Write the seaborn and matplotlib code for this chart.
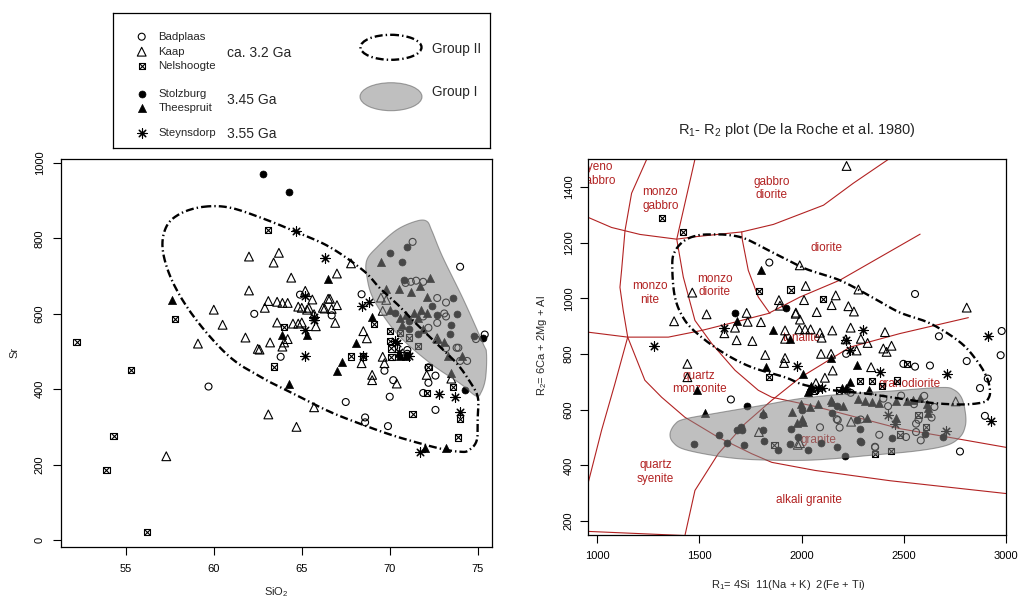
import numpy as np
import pandas as pd
import matplotlib
matplotlib.use("Agg")
import matplotlib.pyplot as plt
from matplotlib.patches import Ellipse
import seaborn as sns

sns.set_style("ticks")
plt.rcParams["font.family"] = ["Liberation Sans", "DejaVu Sans"]
plt.rcParams["mathtext.default"] = "regular"

# ---- left panel: SiO2 (wt%) vs Sr (ppm) ----
sio2_sr_badplaas = [(59.7, 407), (62.3, 600), (63.8, 486), (64.9, 651), (66.7, 596), (67.5, 366),
                    (68.4, 652), (68.6, 325), (68.6, 312), (69.9, 302), (69.7, 449), (70.2, 424),
                    (70.0, 380), (71.0, 504), (71.0, 494), (71.3, 791), (74.0, 725), (71.9, 390),
                    (72.2, 417), (72.2, 458), (72.6, 345), (73.8, 510), (74.0, 475), (74.4, 475),
                    (75.4, 545), (72.6, 436), (73.1, 601), (70.9, 682), (71.2, 685), (71.5, 688),
                    (71.9, 685), (72.7, 642), (73.2, 630), (71.9, 593), (73.2, 593), (72.7, 576),
                    (73.2, 509), (74.9, 533), (73.9, 510), (72.2, 563)]
sio2_sr_kaap = [(57.3, 222), (59.1, 521), (60.0, 611), (60.5, 571), (61.8, 537), (62.0, 662),
                (62.0, 752), (62.5, 507), (62.6, 505), (62.9, 616), (63.1, 634), (63.2, 524),
                (63.1, 333), (63.4, 736), (63.7, 762), (63.6, 632), (63.9, 629), (64.2, 629),
                (63.6, 577), (64.0, 524), (63.9, 513), (64.2, 533), (64.4, 696), (64.5, 574),
                (64.8, 574), (64.8, 619), (65.0, 577), (65.0, 616), (65.2, 661), (65.3, 611),
                (65.4, 616), (65.6, 638), (65.7, 599), (65.8, 567), (65.7, 352), (64.7, 300),
                (66.2, 616), (66.5, 640), (66.6, 640), (66.3, 614), (66.7, 613), (67.0, 623),
                (66.9, 576), (67.0, 707), (67.8, 734), (68.5, 554), (68.7, 535), (68.4, 469),
                (69.0, 438), (69.0, 424), (69.6, 608), (69.6, 486), (69.7, 469), (70.4, 415),
                (69.5, 643), (69.8, 637), (72.1, 438), (72.7, 535), (73.5, 428)]
sio2_sr_nelshoogte = [(52.2, 525), (55.3, 450), (54.3, 275), (53.9, 186), (56.2, 20), (57.8, 587),
                      (63.1, 822), (63.4, 460), (64.0, 565), (67.8, 487), (68.5, 487), (70.0, 555),
                      (70.0, 528), (70.1, 508), (70.1, 486), (71.3, 335), (72.1, 390), (73.6, 406),
                      (74.0, 322), (73.9, 272), (69.1, 573), (71.1, 537), (71.6, 514), (72.2, 459),
                      (70.6, 550)]
sio2_sr_stolzburg = [(62.8, 972), (64.3, 924), (74.3, 398), (71.0, 491), (70.0, 762), (70.7, 738),
                     (71.0, 778), (70.8, 689), (73.6, 641), (70.3, 602), (71.1, 580), (72.4, 620),
                     (72.7, 598), (73.5, 571), (71.1, 559), (71.6, 546), (73.4, 546), (74.8, 542),
                     (73.8, 600), (75.3, 535)]
sio2_sr_theespruit = [(57.6, 637), (63.9, 544), (65.3, 544), (64.3, 415), (66.5, 693), (67.0, 449),
                      (67.3, 472), (68.1, 523), (69.0, 592), (70.5, 495), (70.6, 488), (70.9, 488),
                      (72.0, 243), (73.2, 245), (69.5, 738), (69.8, 667), (70.5, 666), (71.2, 657),
                      (71.7, 674), (72.1, 644), (72.3, 694), (70.0, 611), (70.6, 589), (70.9, 598),
                      (71.4, 602), (71.6, 589), (71.8, 611), (72.1, 602), (70.7, 570), (71.9, 559),
                      (72.7, 533), (73.1, 524), (74.1, 489), (73.3, 489), (73.5, 443)]
sio2_sr_steynsdorp = [(64.7, 820), (66.3, 747), (65.2, 487), (65.2, 557), (65.2, 648), (65.7, 592),
                      (65.7, 584), (68.4, 621), (68.8, 632), (68.5, 487), (70.4, 523), (70.3, 529),
                      (70.5, 498), (71.1, 487), (71.7, 234), (72.8, 388), (73.7, 380), (74.0, 340)]

left_group1 = [(72.1, 846), (71.5, 846), (70.4, 823), (69.3, 778), (68.7, 743), (68.7, 699),
               (69.1, 637), (70.4, 548), (72.3, 469), (74.0, 415), (74.9, 382), (75.2, 392),
               (75.45, 430), (75.5, 495), (75.3, 522), (74.2, 637), (73.0, 752), (72.4, 820)]
left_group2 = [(59.4, 884), (60.9, 882), (62.8, 853), (64.7, 817), (66.6, 777), (68.5, 715),
               (69.4, 670), (70.4, 627), (71.5, 574), (72.65, 522), (73.8, 469), (74.5, 424),
               (75.0, 380), (75.0, 327), (74.95, 265), (74.5, 238), (74.0, 234), (72.8, 243),
               (70.4, 274), (68.5, 305), (66.6, 340), (64.7, 384), (62.8, 429), (60.9, 486),
               (59.0, 584), (57.7, 681), (57.1, 769), (57.3, 831), (58.1, 866)]

# ---- right panel: R1 vs R2 ----
r1r2_badplaas = [(1842, 1129), (2555, 1016), (2672, 864), (2979, 883), (2974, 796), (2808, 775),
                 (2911, 712), (2873, 678), (2897, 578), (2775, 450), (2498, 765), (2555, 755),
                 (2628, 759), (1654, 637), (2240, 661), (2218, 801), (2172, 566), (2186, 536),
                 (2090, 537), (2380, 510), (2511, 502), (2560, 520), (2560, 550), (2636, 572),
                 (2572, 564), (2359, 467), (2423, 613), (2289, 565), (2583, 490), (2360, 465),
                 (2177, 563), (2487, 651), (2600, 650), (2650, 610), (2550, 620), (2400, 640),
                 (2224, 668)]
r1r2_kaap = [(2220, 1476), (1991, 1119), (2020, 1045), (2167, 1011), (2278, 1032), (1465, 1021),
             (1889, 994), (1894, 974), (2012, 994), (2074, 951), (2147, 976), (2229, 972),
             (2256, 953), (1535, 943), (1731, 948), (1972, 949), (2808, 967), (1736, 916),
             (1801, 915), (1674, 895), (1622, 875), (1376, 918), (1682, 850), (1759, 847),
             (1919, 885), (1919, 855), (1989, 889), (2017, 889), (2044, 889), (1971, 945),
             (1992, 924), (1822, 797), (1919, 786), (1914, 768), (1441, 765), (1441, 717),
             (2090, 877), (2098, 859), (2150, 885), (2216, 853), (2240, 895), (2290, 855),
             (2323, 840), (2408, 879), (2400, 820), (2416, 808), (2440, 830), (2340, 753),
             (2095, 801), (2144, 801), (2152, 741), (2114, 715), (2070, 696), (2269, 813),
             (1791, 520), (1992, 480), (2242, 557), (2754, 630), (1981, 474)]
r1r2_nelshoogte = [(1315, 1290), (1418, 1240), (1793, 1026), (1946, 1032), (2106, 997), (1842, 717),
                   (2061, 669), (2286, 703), (2346, 703), (2392, 685), (2465, 705), (2183, 669),
                   (2514, 765), (1867, 474), (2436, 451), (2359, 442), (2482, 511), (2607, 538),
                   (2572, 580)]
r1r2_stolzburg = [(1922, 967), (1674, 948), (1731, 612), (1475, 477), (1596, 508), (1633, 479),
                  (1682, 529), (1703, 539), (1706, 526), (1718, 472), (1813, 582), (1810, 526),
                  (1816, 486), (1886, 456), (1943, 478), (1948, 531), (1981, 502), (2033, 454),
                  (2172, 615), (2271, 564), (2284, 531), (2284, 486), (2093, 480), (2172, 467),
                  (2212, 434), (2441, 499), (2604, 514), (2694, 501), (2289, 483), (2000, 600),
                  (2150, 590)]
r1r2_theespruit = [(1800, 1101), (1686, 918), (1862, 885), (1943, 855), (1825, 753), (2008, 727),
                   (2046, 684), (1486, 672), (1527, 588), (2272, 761), (2142, 786), (2237, 698),
                   (2216, 679), (2033, 663), (2041, 679), (2199, 678), (2331, 670), (1951, 592),
                   (1997, 622), (1976, 552), (2004, 567), (2041, 610), (2082, 621), (2144, 636),
                   (2204, 615), (2278, 640), (2311, 630), (2344, 627), (2379, 624), (2462, 630),
                   (2514, 630), (2547, 634), (2579, 643), (2612, 622), (2620, 606), (2462, 572),
                   (2318, 572), (2005, 556), (2147, 628), (2620, 587), (1813, 590)]
r1r2_steynsdorp = [(1619, 895), (1278, 829), (1979, 759), (2216, 851), (2302, 888), (2914, 864),
                   (2384, 736), (2710, 730), (2925, 559), (2098, 679), (2237, 813), (2082, 678),
                   (2705, 523), (2423, 580), (2455, 548)]

right_group1 = [(1356, 513), (1380, 548), (1429, 567), (1600, 590), (1800, 615), (1992, 640),
                (2200, 656), (2450, 668), (2680, 680), (2745, 672), (2785, 640), (2803, 580),
                (2800, 538), (2775, 502), (2710, 472), (2563, 452), (2319, 435), (2155, 424),
                (1992, 418), (1756, 421), (1592, 433), (1429, 457), (1372, 482)]
right_group2 = [(1367, 1125), (1383, 1173), (1429, 1209), (1494, 1227), (1568, 1230), (1640, 1228),
                (1723, 1215), (1837, 1173), (1918, 1143), (2025, 1105), (2188, 1065), (2351, 1002),
                (2479, 950), (2630, 910), (2775, 843), (2857, 777), (2906, 717), (2922, 669),
                (2915, 642), (2890, 627), (2792, 619), (2645, 624), (2482, 640), (2319, 658),
                (2155, 670), (2057, 682), (1992, 694), (1918, 717), (1755, 753), (1625, 801),
                (1510, 861), (1429, 921), (1380, 1005)]

# De la Roche field boundaries
field_lines = [
    [(953, 1292), (1070, 1255), (1209, 1230), (1388, 1213), (1470, 1221), (1707, 1239),
     (1862, 1266), (2107, 1335), (2253, 1414), (2425, 1500)],
    [(1242, 1500), (1168, 1378), (1136, 1245), (1119, 1101), (1111, 1040), (1127, 957),
     (1149, 861), (1085, 690), (1021, 526), (953, 330)],
    [(953, 879), (1149, 861), (1348, 861), (1511, 885), (1674, 915), (1837, 946), (1992, 1005),
     (2188, 1066), (2580, 1231)],
    [(1149, 861), (1233, 706), (1315, 645), (1429, 573), (1592, 501), (1756, 442), (1854, 411),
     (2066, 382), (2433, 345), (3000, 299)],
    [(1429, 148), (1478, 310), (1592, 442), (1723, 550), (1854, 634), (1992, 715), (2237, 825),
     (2482, 874), (2816, 931)],
    [(1478, 1500), (1389, 1213), (1421, 1077), (1478, 921), (1560, 838), (1674, 742), (1788, 670),
     (1854, 645), (2066, 612), (2482, 532), (3000, 465)],
    [(1707, 1239), (1710, 1210), (1739, 1101), (1788, 1005), (1845, 946)],
    [(953, 163), (1429, 148)],
]
rock_names = ["syeno\ngabbro", "monzo\ngabbro", "gabbro\ndiorite", "diorite", "monzo\nnite",
              "monzo\ndiorite", "tonalite", "quartz\nmonzonite", "granodiorite", "granite",
              "quartz\nsyenite", "alkali granite"]
rock_r1 = [1003, 1309, 1855, 2123, 1258, 1574, 2000, 1499, 2526, 2082, 1286, 2036]
rock_r2 = [1447, 1357, 1396, 1182, 1019, 1046, 859, 699, 694, 490, 376, 274]

units = ["Badplaas", "Kaap", "Nelshoogte", "Stolzburg", "Theespruit", "Steynsdorp"]
left_data = [sio2_sr_badplaas, sio2_sr_kaap, sio2_sr_nelshoogte, sio2_sr_stolzburg,
             sio2_sr_theespruit, sio2_sr_steynsdorp]
right_data = [r1r2_badplaas, r1r2_kaap, r1r2_nelshoogte, r1r2_stolzburg,
              r1r2_theespruit, r1r2_steynsdorp]

RED = "#b22222"
SHADE = dict(facecolor=(0.53, 0.53, 0.53), edgecolor="#555555", alpha=0.53, linewidth=0.8)
DASHDOT = dict(color="black", linewidth=1.7, dashes=(3.4, 1.3, 0.6, 1.3))

open_kw = dict(facecolor="none", edgecolor="black", linewidth=0.8)
MARKERS = {
    "Badplaas": [dict(marker="o", s=25, **open_kw)],
    "Kaap": [dict(marker="^", s=40, **open_kw)],
    "Nelshoogte": [dict(marker="s", s=20, **open_kw),
                   dict(marker="x", s=20, color="black", linewidth=0.8)],
    "Stolzburg": [dict(marker="o", s=25, color="black", edgecolor="black", linewidth=0.5)],
    "Theespruit": [dict(marker="^", s=34, color="black", edgecolor="black", linewidth=0.5)],
    "Steynsdorp": [dict(marker=(8, 2, 0), s=46, color="black", linewidth=0.8)],
}


def smooth_closed(pts, n=16):
    # closed Catmull-Rom curve through the outline vertices
    p = np.asarray(pts, dtype=float)
    P = np.vstack([p[-1], p, p[0], p[1]])
    t = np.linspace(0, 1, n, endpoint=False)[:, None]
    segs = []
    for i in range(1, len(p) + 1):
        p0, p1, p2, p3 = P[i - 1], P[i], P[i + 1], P[i + 2]
        segs.append(0.5 * (2 * p1 + (-p0 + p2) * t + (2 * p0 - 5 * p1 + 4 * p2 - p3) * t ** 2
                           + (-p0 + 3 * p1 - 3 * p2 + p3) * t ** 3))
    out = np.vstack(segs + [p[:1]])
    return out[:, 0], out[:, 1]


def draw_units(ax, datasets):
    for name, pts in zip(units, datasets):
        df = pd.DataFrame(pts, columns=["x", "y"])
        for kw in MARKERS[name]:
            sns.scatterplot(data=df, x="x", y="y", ax=ax, zorder=3, legend=False, **kw)


def draw_groups(ax, g1, g2):
    x, y = smooth_closed(g1)
    ax.fill(x, y, zorder=4, **SHADE)
    x, y = smooth_closed(g2)
    ax.plot(x, y, zorder=5, **DASHDOT)


def style_axes(ax):
    ax.tick_params(direction="out", length=5.5, width=0.8, labelsize=8, colors="black")
    for sp in ax.spines.values():
        sp.set_visible(True)
        sp.set_linewidth(0.9)
        sp.set_color("black")
    for lab in ax.get_yticklabels():
        lab.set_rotation(90)
        lab.set_va("center")
    ax.set_xlabel("")
    ax.set_ylabel("")


fig = plt.figure(figsize=(10.19, 6.02), dpi=100)
ax1 = fig.add_axes([0.0596, 0.0919, 0.4230, 0.6440])
ax2 = fig.add_axes([0.5767, 0.1113, 0.4105, 0.6241])

# left panel
draw_units(ax1, left_data)
draw_groups(ax1, left_group1, left_group2)
ax1.set_xlim(51.3, 75.8)
ax1.set_ylim(-18, 1011)
ax1.set_xticks([55, 60, 65, 70, 75])
ax1.set_yticks([0, 200, 400, 600, 800, 1000])
style_axes(ax1)
ax1.tick_params(axis="x", pad=7)
ax1.tick_params(axis="y", pad=6)
ax1.text(0.5, -0.117, "SiO$_2$", transform=ax1.transAxes, ha="center", va="center", fontsize=8)
ax1.text(-0.108, 0.5, "Sr", transform=ax1.transAxes, ha="center", va="center",
         rotation=90, fontsize=8)

# right panel
for line in field_lines:
    lx, ly = zip(*line)
    ax2.plot(lx, ly, color=RED, linewidth=0.8, zorder=1.5)
for name, rx, ry in zip(rock_names, rock_r1, rock_r2):
    ax2.text(rx, ry, name, color=RED, fontsize=8.5, ha="center", va="center",
             linespacing=1.15, zorder=2, clip_on=True)
draw_units(ax2, right_data)
draw_groups(ax2, right_group1, right_group2)
ax2.set_xlim(953, 3000)
ax2.set_ylim(150, 1500)
ax2.set_xticks([1000, 1500, 2000, 2500, 3000])
ax2.set_yticks([200, 400, 600, 800, 1000, 1200, 1400])
style_axes(ax2)
ax2.tick_params(axis="x", pad=6)
ax2.tick_params(axis="y", pad=4.5)
ax2.text(0.479, -0.133, "R$_1$= 4Si  11(Na + K)  2(Fe + Ti)", transform=ax2.transAxes,
         ha="center", va="center", fontsize=8)
ax2.text(-0.11, 0.505, "R$_2$= 6Ca + 2Mg + Al", transform=ax2.transAxes, ha="center",
         va="center", rotation=90, fontsize=8)
ax2.text(0.5, 1.078, "R$_1$- R$_2$ plot (De la Roche et al. 1980)", transform=ax2.transAxes,
         ha="center", va="center", fontsize=10.5)

# legend box (pixel units inside the box)
leg = fig.add_axes([112.7 / 1019, 1 - 148 / 602, 377.3 / 1019, 135.3 / 602])
leg.set_xlim(0, 377.3)
leg.set_ylim(135.3, 0)
leg.set_xticks([])
leg.set_yticks([])
for sp in leg.spines.values():
    sp.set_visible(True)
    sp.set_linewidth(0.9)
    sp.set_color("black")
entry_y = [24, 39, 53.3, 81.3, 95, 120.6]
for name, yy in zip(units, entry_y):
    for kw in MARKERS[name]:
        leg.scatter([29], [yy], clip_on=False, **kw)
    leg.text(45.6, yy, name, fontsize=8.2, va="center", ha="left")
for txt, yy in zip(["ca. 3.2 Ga", "3.45 Ga", "3.55 Ga"], [40, 87.3, 121.3]):
    leg.text(114, yy, txt, fontsize=10, va="center", ha="left")
leg.add_patch(Ellipse((278.3, 34.6), 61, 25, fill=False, linewidth=1.7,
                      linestyle=(0, (3.4, 1.3, 0.6, 1.3)), edgecolor="black"))
leg.add_patch(Ellipse((278.3, 84), 62, 28, **SHADE))
leg.text(319, 36.6, "Group II", fontsize=9.8, va="center", ha="left")
leg.text(319, 79, "Group I", fontsize=9.8, va="center", ha="left")

fig.savefig("out.png", dpi=100)
